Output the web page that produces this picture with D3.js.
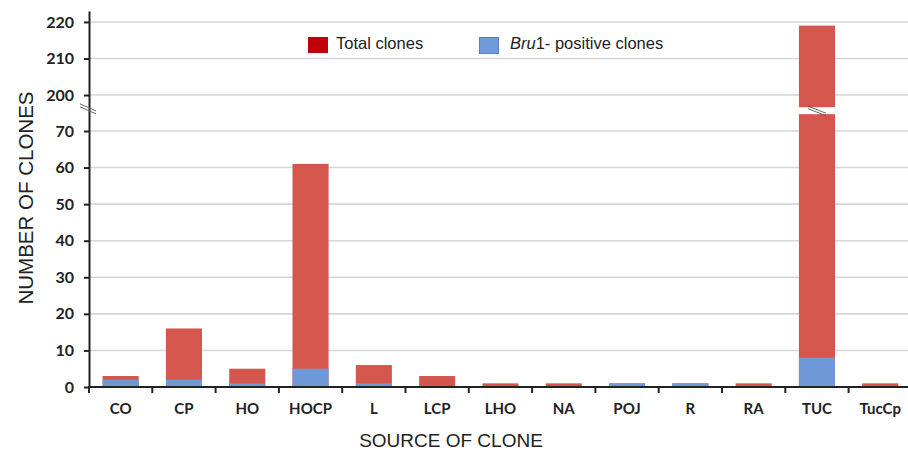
<!DOCTYPE html>
<meta charset="UTF-8">
<script src="https://d3js.org/d3.v7.min.js"></script>
<style>
  body { margin: 0; background: #fff; }
</style>
<div id="my_dataviz"></div>
<script>

  // Data
  const sources = ["CO", "CP", "HO", "HOCP", "L", "LCP", "LHO", "NA", "POJ", "R", "RA", "TUC", "TucCp"];
  const totalClones = [3, 16, 5, 61, 6, 3, 1, 1, 1, 1, 1, 219, 1];
  const bruPositive = [2, 2, 1, 5, 1, 0, 0, 0, 1, 1, 0, 8, 0];
  const yTicks = [0, 10, 20, 30, 40, 50, 60, 70, 200, 210, 220];

  const width = 908, height = 451;
  const left = 89, bottom = 387;

  const svg = d3.select("#my_dataviz")
    .append("svg")
    .attr("width", width)
    .attr("height", height);

  // broken axis: 0-70 then 200-220
  const y = d3.scaleLinear()
    .domain([0, 70, 200, 223])
    .range([bottom, 131, 95, 11]);

  // lower segment only, to place the bar break
  const yLow = d3.scaleLinear()
    .domain([0, 70])
    .range([bottom, 131]);

  const x = d3.scaleBand()
    .domain(sources)
    .range([left, left + 63.3 * sources.length])
    .padding(0);

  const barW = x.bandwidth() * 0.57;

  // Gridlines
  svg.append("g")
    .selectAll("line")
    .data(yTicks.filter(d => d > 0))
    .join("line")
    .attr("x1", left)
    .attr("x2", width)
    .attr("y1", d => y(d))
    .attr("y2", d => y(d))
    .attr("stroke", "#d6d6d6")
    .attr("stroke-width", 1.6);

  // Bars: total in red, Bru1-positive over it in blue
  svg.append("g")
    .selectAll("rect")
    .data(sources)
    .join("rect")
    .attr("x", d => x(d) + (x.bandwidth() - barW) / 2)
    .attr("y", (d, i) => y(totalClones[i]))
    .attr("width", barW)
    .attr("height", (d, i) => y(0) - y(totalClones[i]))
    .attr("fill", "#d5564d");

  svg.append("g")
    .selectAll("rect")
    .data(sources)
    .join("rect")
    .attr("x", d => x(d) + (x.bandwidth() - barW) / 2)
    .attr("y", (d, i) => y(bruPositive[i]))
    .attr("width", barW)
    .attr("height", (d, i) => y(0) - y(bruPositive[i]))
    .attr("fill", "#6f99d6");

  // break in the TUC bar
  const gapBot = yLow(74.6), gapTop = gapBot - 7;
  svg.append("rect")
    .attr("x", x("TUC") + (x.bandwidth() - barW) / 2 - 1)
    .attr("y", gapTop)
    .attr("width", barW + 2)
    .attr("height", gapBot - gapTop)
    .attr("fill", "#fff");

  const bx = x("TUC") + x.bandwidth() / 2;
  [0, 2.5].forEach(o => {
    svg.append("line")
      .attr("x1", bx - 9).attr("y1", gapTop - 1 + o)
      .attr("x2", bx + 9).attr("y2", gapBot - 1 + o)
      .attr("stroke", "#555")
      .attr("stroke-width", 0.9);
  });

  // Y axis
  const yAxis = svg.append("g")
    .attr("transform", `translate(${left},0)`)
    .call(d3.axisLeft(y).tickValues(yTicks).tickSize(5).tickSizeOuter(0));

  yAxis.select(".domain").attr("stroke", "#222").attr("stroke-width", 2);
  yAxis.selectAll(".tick line").attr("stroke", "#222").attr("stroke-width", 2);
  yAxis.selectAll("text")
    .attr("x", -15)
    .style("font-family", "Lato, sans-serif")
    .style("font-weight", "bold")
    .style("font-size", "16px")
    .attr("fill", "#222");

  // break mark on the y axis
  const ay = yLow(75.5);
  [0, 3].forEach(o => {
    svg.append("line")
      .attr("x1", left - 9).attr("y1", ay - 7 + o)
      .attr("x2", left + 7).attr("y2", ay + o)
      .attr("stroke", "#666")
      .attr("stroke-width", 1);
  });

  // X axis
  const xAxis = svg.append("g")
    .attr("transform", `translate(0,${bottom})`);

  xAxis.append("line")
    .attr("x1", left - 1)
    .attr("x2", x.range()[1])
    .attr("stroke", "#222")
    .attr("stroke-width", 2);

  xAxis.selectAll("line.tk")
    .data(sources)
    .join("line")
    .attr("class", "tk")
    .attr("x1", d => x(d))
    .attr("x2", d => x(d))
    .attr("y1", 0)
    .attr("y2", 6)
    .attr("stroke", "#222")
    .attr("stroke-width", 2);

  xAxis.selectAll("text")
    .data(sources)
    .join("text")
    .attr("x", d => x(d) + x.bandwidth() / 2)
    .attr("y", 27)
    .attr("text-anchor", "middle")
    .style("font-family", "Lato, sans-serif")
    .style("font-weight", "bold")
    .style("font-size", "15px")
    .attr("fill", "#222")
    .text(d => d);

  // Axis titles
  svg.append("text")
    .attr("transform", "rotate(-90)")
    .attr("x", -198)
    .attr("y", 33)
    .attr("text-anchor", "middle")
    .style("font-family", "Liberation Sans, Arial, sans-serif")
    .style("font-size", "20.5px")
    .attr("fill", "#222")
    .text("NUMBER OF CLONES");

  svg.append("text")
    .attr("x", 451)
    .attr("y", 447)
    .attr("text-anchor", "middle")
    .style("font-family", "Liberation Sans, Arial, sans-serif")
    .style("font-size", "19px")
    .attr("fill", "#222")
    .text("SOURCE OF CLONE");

  // Legend
  const legend = svg.append("g");

  legend.append("rect")
    .attr("x", 308).attr("y", 37).attr("width", 20).attr("height", 16)
    .attr("fill", "#c0000b");
  legend.append("text")
    .attr("x", 336).attr("y", 49)
    .style("font-family", "Liberation Sans, Arial, sans-serif")
    .style("font-size", "16.5px")
    .attr("fill", "#222")
    .text("Total clones");

  legend.append("rect")
    .attr("x", 479.5).attr("y", 37.5).attr("width", 19).attr("height", 16)
    .attr("fill", "#6f9bd8")
    .attr("stroke", "#5a80bd");
  const t2 = legend.append("text")
    .attr("x", 510).attr("y", 49)
    .style("font-family", "Liberation Sans, Arial, sans-serif")
    .style("font-size", "16.5px")
    .attr("fill", "#222");
  t2.append("tspan").style("font-style", "italic").text("Bru");
  t2.append("tspan").text("1- positive clones");

</script>
